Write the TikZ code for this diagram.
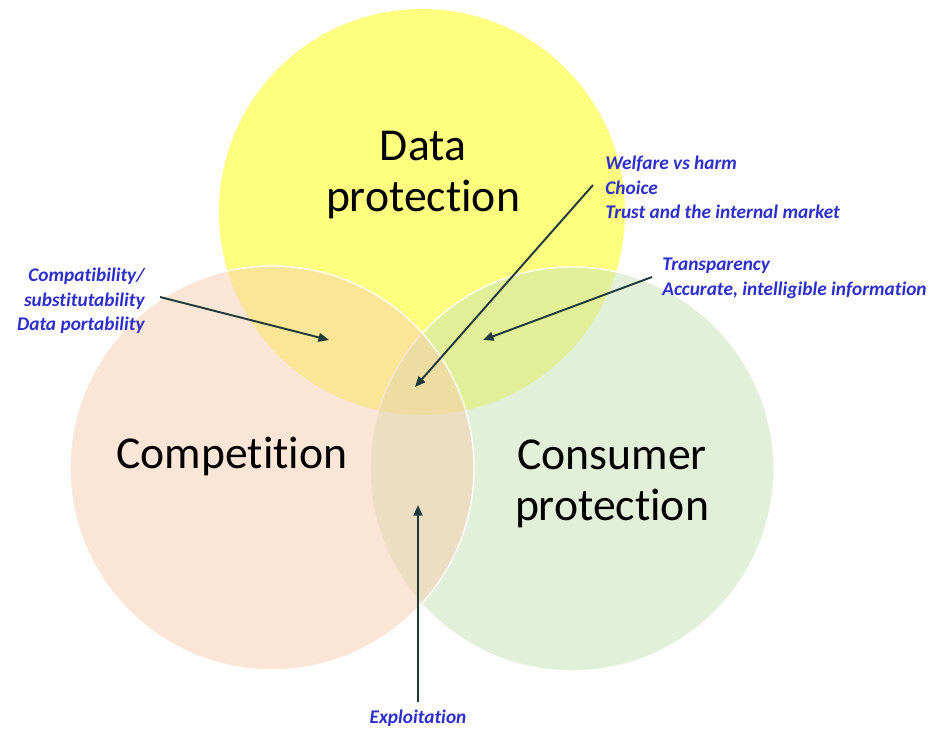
\documentclass[tikz,border=0pt]{standalone}
\usepackage{fontspec}
\setmainfont{Carlito}[Ligatures = {TeX, NoCommon}]
\usetikzlibrary{arrows.meta}

\definecolor{dpyellow}{HTML}{FFFF00}
\definecolor{compeach}{HTML}{F8CBAD}
\definecolor{cpgreen}{HTML}{C5E0B4}
\definecolor{noteblue}{HTML}{2E2ECC}
\definecolor{linkgray}{HTML}{1F3A3A}

\begin{document}
\begin{tikzpicture}[x = 0.02cm, y = -0.02cm,
    area/.style = {fill opacity = 0.5, draw = white, line width = 0.8pt},
    title/.style = {font = \fontsize{26}{29}\selectfont, align = center, inner sep = 0pt},
    note/.style = {font = \fontsize{11}{13.9}\selectfont\bfseries\itshape, text = noteblue, inner sep = 0pt},
    link/.style = {-{Triangle[length = 6pt, width = 5pt]}, linkgray, line width = 1.1pt}]
        \useasboundingbox (0,0) rectangle (942,733);

        \fill[dpyellow, fill opacity = 0.5] (422,212) circle[radius = 203];
        \path[fill = cpgreen, area] (572,469) circle[radius = 202];
        \path[fill = compeach, area] (272,468) circle[radius = 202];

        \node[title] (dataprot) at (423,175) {Data\\protection};
        \node[title, anchor = base] (comp) at (232,468) {Competition};
        \node[title] (consprot) at (612,484) {Consumer\\protection};

        \node[note, anchor = north east, align = right] (compat) at (145,268)
          {Compatibility/\\substitutability\\Data portability};
        \node[note, anchor = north west, align = left] (welfare) at (605,156)
          {Welfare vs harm\\Choice\\Trust and the internal market};
        \node[note, anchor = north west, align = left] (transp) at (662,258)
          {Transparency\\Accurate, intelligible information};
        \node[note, anchor = north] (exploit) at (418,710) {Exploitation};

        \coordinate (compatend) at (329,340);
        \coordinate (welfareend) at (415,387);
        \coordinate (transpend) at (483,340);
        \coordinate (exploitend) at (418,505);

        \draw[link] (compat.east |- 0,297) ++(15,0) -- (compatend);
        \draw[link] (welfare.west |- 0,185) ++(-12,0) -- (welfareend);
        \draw[link] (transp.west |- 0,277) ++(-10,0) -- (transpend);
        \draw[link] (exploit.north) ++(0,-8) -- (exploitend);
      \end{tikzpicture}
\end{document}
